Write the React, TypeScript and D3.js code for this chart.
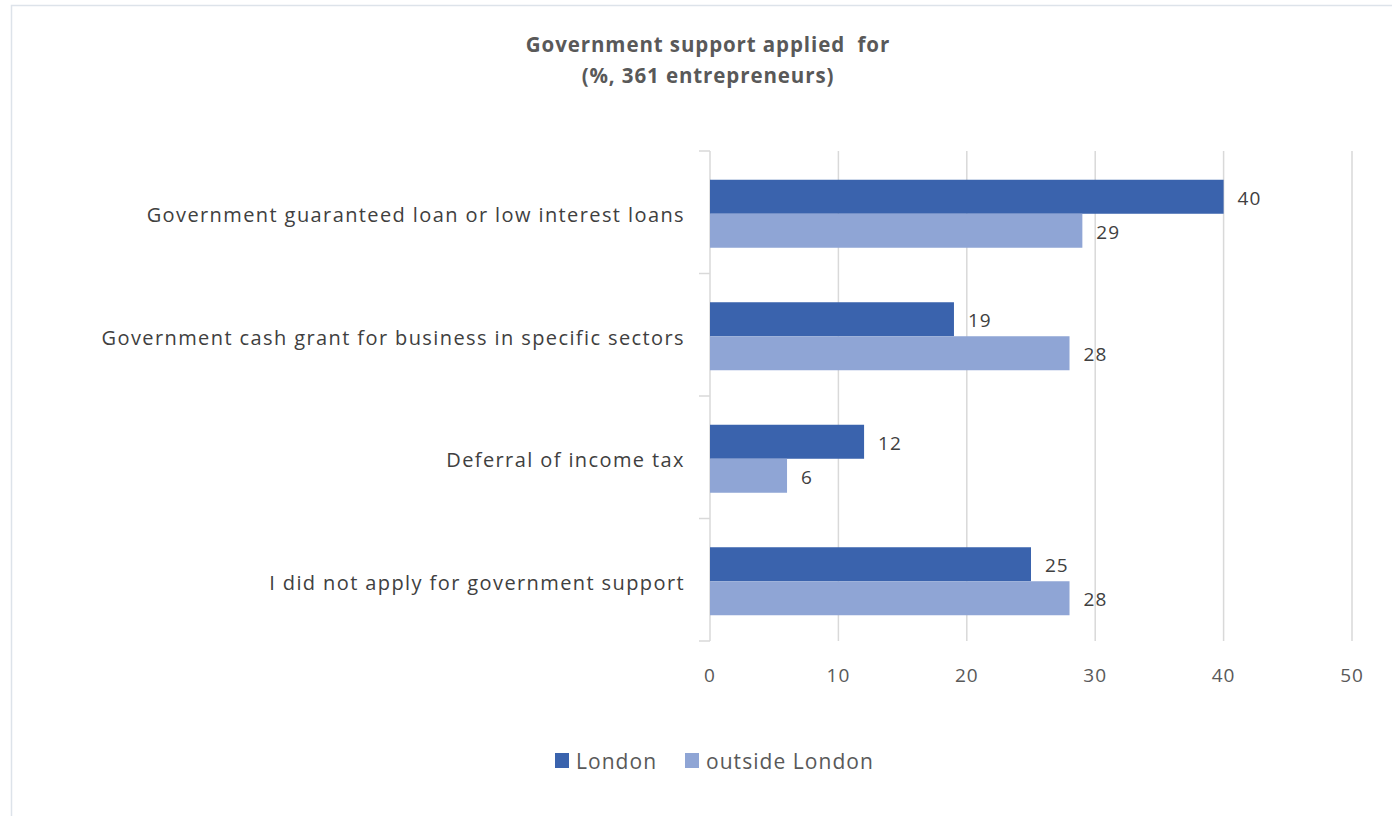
import React from "react";
import * as d3 from "d3";

const categories = [
  "Government guaranteed loan or low interest loans",
  "Government cash grant for business in specific sectors",
  "Deferral of income tax",
  "I did not apply for government support",
];
const london = [40, 19, 12, 25];
const outside = [29, 28, 6, 28];
const seriesNames = ["London", "outside London"];
const xTicks = [0, 10, 20, 30, 40, 50];
const titleLines = ["Government support applied  for", "(%, 361 entrepreneurs)"];

const W = 1392;
const H = 816;
const colors = ["#3a63ad", "#8fa5d5"];
const font = "'Open Sans', 'DejaVu Sans', sans-serif";

export default function App() {
  const x = d3.scaleLinear().domain([0, 50]).range([710, 1352]);
  const y = d3.scaleBand().domain(categories).range([151, 641]);
  const bw = y.bandwidth();
  const barH = 34;
  const series = [london, outside];

  return (
    <svg
      width={W}
      height={H}
      style={{ position: "absolute", left: 0, top: 0, background: "#fff" }}
      fontFamily={font}
    >
      <rect x={11.5} y={5.5} width={W + 10} height={H + 10} fill="#fff" stroke="#dde3ea" strokeWidth={1.5} />
      {titleLines.map((t, i) => (
        <text
          key={i}
          x={708}
          y={45 + i * 31}
          dy="0.36em"
          textAnchor="middle"
          fontSize={20.5}
          fontWeight="bold"
          letterSpacing={0.9}
          fill="#595959"
          style={{ whiteSpace: "pre" }}
        >
          {t}
        </text>
      ))}
      {xTicks.slice(1).map((t) => (
        <line key={t} x1={x(t)} x2={x(t)} y1={151} y2={641} stroke="#d9d9d9" strokeWidth={1.5} />
      ))}
      <line x1={x(0)} x2={x(0)} y1={151} y2={641} stroke="#d9d9d9" strokeWidth={1.5} />
      {[...categories.map((c) => y(c)!), 641].map((v, i) => (
        <line key={i} x1={699} x2={x(0)} y1={v} y2={v} stroke="#d9d9d9" strokeWidth={1.5} />
      ))}
      {categories.map((c, ci) => {
        const top = y(c)! + (bw - barH * 2) / 2 + 1.5;
        return (
          <g key={c}>
            {series.map((s, si) => (
              <g key={si}>
                <rect x={x(0)} y={top + si * barH} width={x(s[ci]) - x(0)} height={barH} fill={colors[si]} />
                <text
                  x={x(s[ci]) + 14}
                  y={top + si * barH + barH / 2 + 1}
                  dy="0.36em"
                  fontSize={19}
                  letterSpacing={1}
                  fill="#404040"
                >
                  {s[ci]}
                </text>
              </g>
            ))}
            <text
              x={685}
              y={y(c)! + bw / 2 + 3}
              dy="0.36em"
              textAnchor="end"
              fontSize={20}
              letterSpacing={1.4}
              fill="#404040"
            >
              {c}
            </text>
          </g>
        );
      })}
      {xTicks.map((t) => (
        <text key={t} x={x(t)} y={675} dy="0.36em" textAnchor="middle" fontSize={19} letterSpacing={1} fill="#595959">
          {t}
        </text>
      ))}
      {seriesNames.map((n, i) => {
        const lx = [555, 685][i];
        return (
          <g key={n}>
            <rect x={lx} y={753} width={14} height={15} fill={colors[i]} />
            <text x={lx + 21} y={761} dy="0.36em" fontSize={21} letterSpacing={1.05} fill="#595959">
              {n}
            </text>
          </g>
        );
      })}
    </svg>
  );
}
